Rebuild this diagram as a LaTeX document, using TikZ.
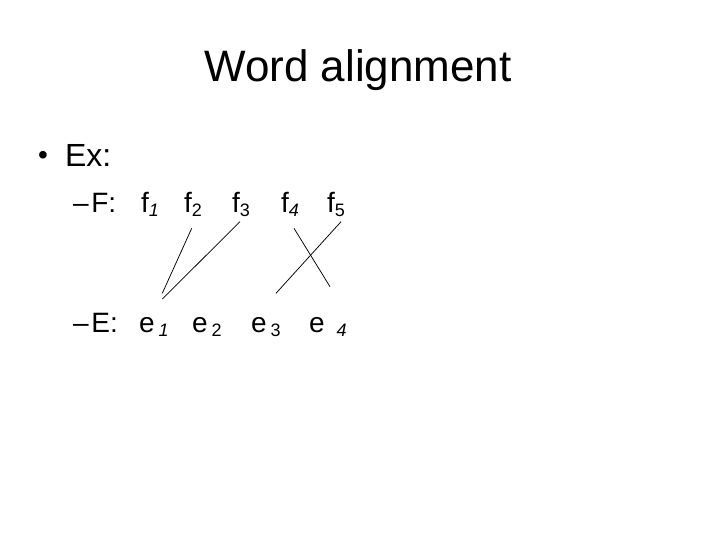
\documentclass[tikz,border=0pt]{standalone}
\usepackage{fontspec}
\setmainfont{Liberation Sans}
\newcommand{\subup}[1]{\raisebox{-4pt}{\fontsize{18}{18}\selectfont #1}}
\newcommand{\subit}[1]{\raisebox{-4pt}{\fontsize{18}{18}\selectfont\itshape #1}}
\begin{document}
\begin{tikzpicture}[x=1pt,y=-1pt,
  txt/.style={inner sep=0pt,outer sep=0pt,anchor=base west,font=\fontsize{28}{30}\selectfont},
  link/.style={draw=black,line width=0.75pt}]
\useasboundingbox (0,0) rectangle (720,540);
% title
\node[inner sep=0pt,anchor=base,font=\fontsize{44}{48}\selectfont] (title) at (358,82) {Word alignment};
% bullet line
\node[txt,font=\fontsize{28}{30}\selectfont] (bul) at (38,165) {•};
\node[txt,font=\fontsize{32}{34}\selectfont] (ex) at (65,167) {Ex:};
% F line
\node[txt] (flab) at (73,212) {–\hspace{2.8pt}F:};
\node[txt] (f1) at (141,212) {f\subit{1}};
\node[txt] (f2) at (184,212) {f\subup{2}};
\node[txt] (f3) at (232,212) {f\subup{3}};
\node[txt] (f4) at (281,212) {f\subit{4}};
\node[txt] (f5) at (327,212) {f\subup{5}};
% E line
\node[txt] (elab) at (73,332) {–\hspace{2.8pt}E:};
\node[txt] (e1) at (139,332) {e\hspace{4pt}\subit{1}};
\node[txt] (e2) at (192,332) {e\hspace{4pt}\subup{2}};
\node[txt] (e3) at (251,332) {e\hspace{4pt}\subup{3}};
\node[txt] (e4) at (309,332) {e\hspace{12pt}\subit{4}};
% alignment links
\draw[link] ([shift={(7.7pt,-16.3pt)}]f2.base west) -- ([shift={(23.3pt,38.7pt)}]e1.base west);
\draw[link] ([shift={(8pt,-9.7pt)}]f3.base west) -- ([shift={(23.3pt,33pt)}]e1.base west);
\draw[link] ([shift={(13pt,-16.3pt)}]f4.base west) -- ([shift={(21pt,45.3pt)}]e4.base west);
\draw[link] ([shift={(14pt,-9.7pt)}]f5.base west) -- ([shift={(25pt,38.7pt)}]e3.base west);
\end{tikzpicture}
\end{document}
